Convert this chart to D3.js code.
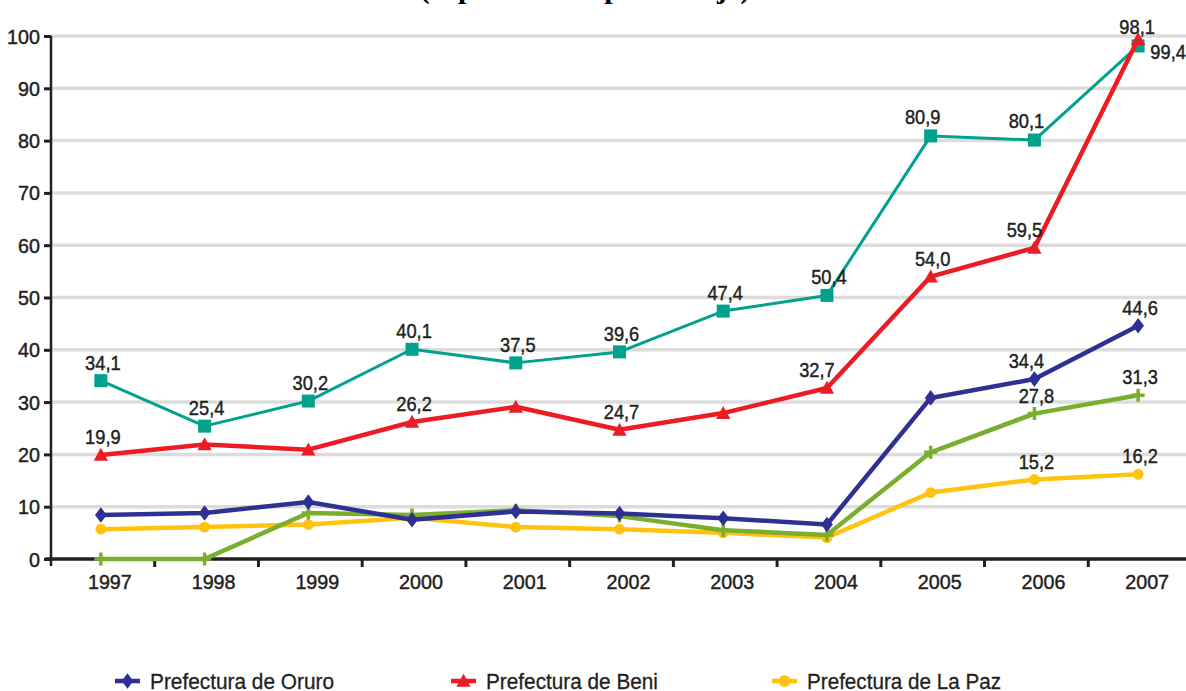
<!DOCTYPE html>
<html>
<head>
<meta charset="utf-8">
<script src="https://cdn.jsdelivr.net/npm/d3@7"></script>
<style>
  body { margin: 0; background: #fff; }
  svg { display: block; }
  .num { font-family: "Liberation Sans", Arial, sans-serif; fill: #231f20; stroke: #231f20; stroke-width: 0.45px; }
  .legend text { font-family: "Liberation Sans", Arial, sans-serif; font-size: 22px; fill: #231f20; stroke: #231f20; stroke-width: 0.3px; }
</style>
</head>
<body>
<svg></svg>
<script>
// chart size
const width = 1186;
const height = 691;

// data
const years = ['1997', '1998', '1999', '2000', '2001', '2002', '2003', '2004', '2005', '2006', '2007'];
const oruro = [8.4, 8.8, 10.9, 7.5, 9.1, 8.7, 7.8, 6.6, 30.8, 34.4, 44.6];
const beni = [19.9, 21.9, 20.9, 26.2, 29.1, 24.7, 27.9, 32.7, 54.0, 59.5, 99.4];
const laPaz = [5.7, 6.1, 6.6, 7.9, 6.1, 5.7, 5.0, 4.1, 12.7, 15.2, 16.2];
const green = [0, 0, 8.8, 8.4, 9.3, 8.2, 5.5, 4.6, 20.4, 27.8, 31.3];
const teal = [34.1, 25.4, 30.2, 40.1, 37.5, 39.6, 47.4, 50.4, 80.9, 80.1, 98.1];
const yTicks = [0, 10, 20, 30, 40, 50, 60, 70, 80, 90, 100];

// which points get a value label (index list per series)
const labelled = {
  teal: [0, 1, 2, 3, 4, 5, 6, 7, 8, 9, 10],
  beni: [0, 3, 5, 7, 8, 9, 10],
  oruro: [9, 10],
  green: [9, 10],
  laPaz: [9, 10]
};

const series = [
  { key: 'teal', name: 'teal', values: teal, color: '#00a28e', width: 3, marker: 'square' },
  { key: 'laPaz', name: 'Prefectura de La Paz', values: laPaz, color: '#ffc20e', width: 4.5, marker: 'circle' },
  { key: 'green', name: 'green', values: green, color: '#7aae2f', width: 4.5, marker: 'plus' },
  { key: 'oruro', name: 'Prefectura de Oruro', values: oruro, color: '#2e3192', width: 4.5, marker: 'diamond' },
  { key: 'beni', name: 'Prefectura de Beni', values: beni, color: '#ed1c24', width: 4.5, marker: 'triangle' }
];
const legendKeys = ['oruro', 'beni', 'laPaz'];

const svg = d3.select('svg')
  .attr('width', width)
  .attr('height', height);

// scales
const x = d3.scaleBand().domain(years).range([51, 1192]);
const y = d3.scaleLinear().domain([0, 100]).range([559, 36]);
const cx = (i) => x(years[i]) + x.bandwidth() / 2 - 2;

// narrow text: the original uses a condensed face, so squeeze a normal one
function narrowText(parent, px, py, str, size, sx, anchor) {
  return parent.append('text')
    .attr('class', 'num')
    .attr('transform', `translate(${px},${py}) scale(${sx},1)`)
    .attr('text-anchor', anchor || 'middle')
    .style('font-size', size + 'px')
    .text(str);
}

// title, mostly cut off at the top
svg.append('text')
  .attr('x', 585)
  .attr('y', -2)
  .attr('text-anchor', 'middle')
  .style('font-family', '"Liberation Serif", serif')
  .style('font-weight', 'bold')
  .style('font-size', '30px')
  .text('(expresado en porcentaje)');

// gridlines
svg.append('g')
  .selectAll('line')
  .data(yTicks.filter((t) => t > 0))
  .join('line')
  .attr('x1', 51).attr('x2', width)
  .attr('y1', (d) => y(d)).attr('y2', (d) => y(d))
  .attr('stroke', '#dcdcdc')
  .attr('stroke-width', 3.5);

// y axis
const yAxis = svg.append('g')
  .attr('transform', 'translate(51,0)')
  .call(d3.axisLeft(y).tickValues(yTicks).tickSize(7).tickFormat(''));
yAxis.select('.domain').attr('stroke', '#231f20').attr('stroke-width', 2.5).attr('d', 'M0,36V566');
yAxis.selectAll('.tick line').attr('stroke', '#231f20').attr('stroke-width', 3);
yTicks.forEach((t) => narrowText(svg, 40, y(t) + 7.5, t, 21, 0.94, 'end'));

// x axis: ticks sit between categories
const xAxis = svg.append('g').attr('transform', 'translate(0,559)');
xAxis.append('line')
  .attr('x1', 45).attr('x2', width)
  .attr('stroke', '#231f20').attr('stroke-width', 3.5);
xAxis.selectAll('.xt')
  .data(years.slice(1))
  .join('line')
  .attr('class', 'xt')
  .attr('x1', (d) => x(d)).attr('x2', (d) => x(d))
  .attr('y1', 0).attr('y2', 8)
  .attr('stroke', '#231f20').attr('stroke-width', 3);
years.forEach((d) => narrowText(xAxis, x(d) + x.bandwidth() / 2 + 7, 30, d, 21, 0.94));

// markers
function drawMarker(g, type, color, px, py, s) {
  if (type === 'circle') {
    g.append('circle').attr('cx', px).attr('cy', py).attr('r', s * 0.45).attr('fill', color);
  } else if (type === 'square') {
    g.append('rect').attr('x', px - s / 2).attr('y', py - s / 2).attr('width', s).attr('height', s).attr('fill', color);
  } else if (type === 'diamond') {
    g.append('path').attr('d', `M${px},${py - s * 0.6}L${px + s * 0.45},${py}L${px},${py + s * 0.6}L${px - s * 0.45},${py}Z`).attr('fill', color);
  } else if (type === 'triangle') {
    g.append('path').attr('d', `M${px},${py - s * 0.55}L${px + s * 0.55},${py + s * 0.45}L${px - s * 0.55},${py + s * 0.45}Z`).attr('fill', color);
  } else if (type === 'plus') {
    g.append('path').attr('d', `M${px - s / 2},${py}H${px + s / 2}M${px},${py - s / 2}V${py + s / 2}`)
      .attr('stroke', color).attr('stroke-width', 3.5);
  }
}

const line = d3.line().x((d, i) => cx(i)).y((d) => y(d));

const plot = svg.append('g');
series.forEach((s) => {
  const g = plot.append('g');
  g.append('path')
    .attr('d', line(s.values))
    .attr('fill', 'none')
    .attr('stroke', s.color)
    .attr('stroke-width', s.width)
    .attr('stroke-linejoin', 'round');
  s.values.forEach((v, i) => drawMarker(g, s.marker, s.color, cx(i), y(v), s.marker === 'circle' ? 12 : 13));
});

// value labels
const fmt = (v) => d3.format('.1f')(v).replace('.', ',');
const labels = svg.append('g');
series.forEach((s) => {
  labelled[s.key].forEach((i) => {
    let dx = 2, dy = -11;
    if (s.key === 'beni' && i === 10) { dx = 30; dy = 20; }
    if (s.key === 'teal' && i === 10) { dx = -1; dy = -12; }
    if (s.key === 'teal' && (i === 8 || i === 9)) { dx = -8; dy = -12; }
    if (s.key === 'beni' && (i === 9 || i === 4 || i === 7)) { dx = -10; }
    if (s.key === 'oruro' && i === 9) { dx = -8; }
    narrowText(labels, cx(i) + dx, y(s.values[i]) + dy, fmt(s.values[i]), 21, 0.87);
  });
});

// legend
const legendX = [115, 451, 772];
const legendW = [184, 172, 194];
const legend = svg.append('g').attr('class', 'legend');
legendKeys.forEach((k, j) => {
  const s = series.find((d) => d.key === k);
  const g = legend.append('g');
  g.append('line')
    .attr('x1', legendX[j]).attr('x2', legendX[j] + 25)
    .attr('y1', 681).attr('y2', 681)
    .attr('stroke', s.color).attr('stroke-width', 4.5);
  drawMarker(g, s.marker, s.color, legendX[j] + 12.5, 681, 13);
  g.append('text')
    .attr('x', legendX[j] + 35)
    .attr('y', 689)
    .attr('textLength', legendW[j])
    .attr('lengthAdjust', 'spacingAndGlyphs')
    .text(s.name);
});
</script>
</body>
</html>
